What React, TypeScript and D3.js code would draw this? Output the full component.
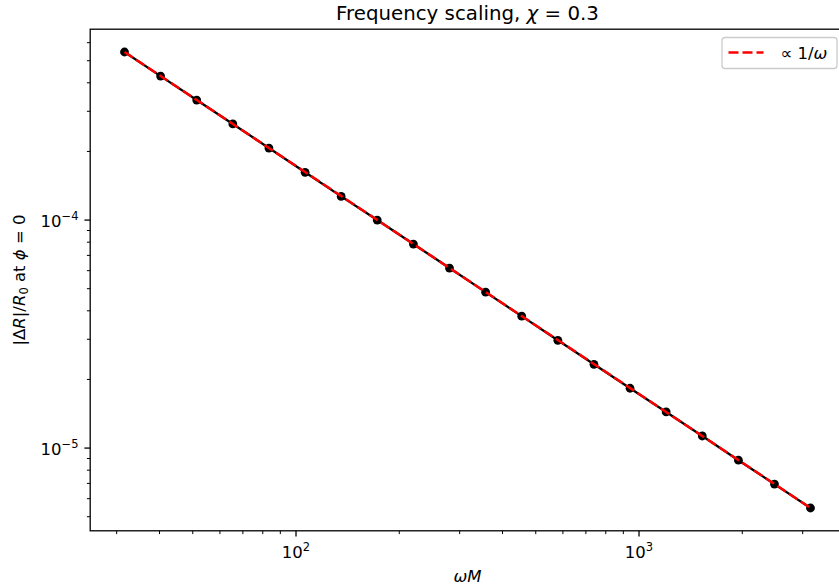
import * as d3 from 'd3';
import { useEffect, useRef } from 'react';

// omega*M sample points and |dR|/R0
const omega = [31.62, 40.29, 51.34, 65.43, 83.38, 106.3, 135.4, 172.5, 219.9, 280.2,
    357.1, 455.0, 579.9, 738.9, 941.6, 1200, 1529, 1949, 2483, 3162];
const deltaR = [5.46e-4, 4.28e-4, 3.36e-4, 2.64e-4, 2.07e-4, 1.62e-4, 1.27e-4, 1.0e-4, 7.85e-5, 6.16e-5,
    4.83e-5, 3.79e-5, 2.97e-5, 2.33e-5, 1.83e-5, 1.44e-5, 1.13e-5, 8.85e-6, 6.95e-6, 5.46e-6];
// fitted 1/omega line (end points)
const fitOmega = [31.62, 3162];
const fitValues = [5.46e-4, 5.46e-6];

const xMajor = [100, 1000];
const xMajorExp = ['2', '3'];
const yMajor = [1e-4, 1e-5];
const yMajorExp = ['\u22124', '\u22125'];

const FONT = 'DejaVu Sans, sans-serif';
const FS = 16.5;     // tick / label size
const FS_SUP = 11.5; // super-/subscripts
const FS_TITLE = 19.8;

function App() {
    const svgRef = useRef<SVGSVGElement>(null);

    useEffect(() => {
        const svg = d3.select(svgRef.current);
        svg.selectAll('*').remove();

        // matplotlib-like 5% margins in log space
        const logPad = (ext: number[]) => {
            const lo = Math.log10(ext[0]), hi = Math.log10(ext[1]);
            const p = (hi - lo) * 0.05;
            return [Math.pow(10, lo - p), Math.pow(10, hi + p)];
        };
        const xDom = logPad(d3.extent(omega) as number[]);
        const yDom = logPad(d3.extent(deltaR) as number[]);

        const left = 90.2, right = 844.8, top = 29.2, bottom = 530.8;
        const x = d3.scaleLog().domain(xDom).range([left, right]);
        const y = d3.scaleLog().domain(yDom).range([bottom, top]);

        // ---------- data ----------
        const line = d3.line<number>()
            .x((d, i) => x(omega[i]))
            .y(d => y(d));
        svg.append('path')
            .datum(deltaR)
            .attr('fill', 'none')
            .attr('stroke', 'black')
            .attr('stroke-width', 2.3)
            .attr('d', line);
        svg.append('g').selectAll('circle')
            .data(deltaR)
            .join('circle')
            .attr('cx', (d, i) => x(omega[i]))
            .attr('cy', d => y(d))
            .attr('r', 4.4)
            .attr('fill', 'black');

        const fitLine = d3.line<number>()
            .x((d, i) => x(fitOmega[i]))
            .y(d => y(d));
        svg.append('path')
            .datum(fitValues)
            .attr('fill', 'none')
            .attr('stroke', 'red')
            .attr('stroke-width', 2.6)
            .attr('stroke-dasharray', '10,4')
            .attr('d', fitLine);

        // ---------- spines ----------
        svg.append('rect')
            .attr('x', left).attr('y', top)
            .attr('width', right - left).attr('height', bottom - top)
            .attr('fill', 'none').attr('stroke', 'black').attr('stroke-width', 1.3);

        // ---------- x ticks ----------
        const xg = svg.append('g');
        x.ticks().forEach(t => {
            const major = Math.abs(Math.log10(t) - Math.round(Math.log10(t))) < 1e-9;
            xg.append('line')
                .attr('x1', x(t)).attr('x2', x(t))
                .attr('y1', bottom).attr('y2', bottom + (major ? 5.8 : 3.3))
                .attr('stroke', 'black').attr('stroke-width', major ? 1.3 : 1);
        });
        xMajor.forEach((t, i) => {
            const tx = xg.append('text')
                .attr('x', x(t)).attr('y', 557.8)
                .attr('text-anchor', 'middle')
                .attr('font-family', FONT).attr('font-size', FS);
            tx.append('tspan').text('10');
            tx.append('tspan').attr('dy', -7).attr('font-size', FS_SUP).text(xMajorExp[i]);
        });

        // ---------- y ticks ----------
        const yg = svg.append('g');
        y.ticks().forEach(t => {
            const major = Math.abs(Math.log10(t) - Math.round(Math.log10(t))) < 1e-9;
            yg.append('line')
                .attr('x1', left).attr('x2', left - (major ? 5.8 : 3.3))
                .attr('y1', y(t)).attr('y2', y(t))
                .attr('stroke', 'black').attr('stroke-width', major ? 1.3 : 1);
        });
        yMajor.forEach((t, i) => {
            const tx = yg.append('text')
                .attr('x', 78.5).attr('y', y(t) + 7)
                .attr('text-anchor', 'end')
                .attr('font-family', FONT).attr('font-size', FS);
            tx.append('tspan').text('10');
            tx.append('tspan').attr('dy', -7).attr('font-size', FS_SUP).text(yMajorExp[i]);
        });

        // ---------- labels ----------
        const title = svg.append('text')
            .attr('x', (left + right) / 2).attr('y', 19.8)
            .attr('text-anchor', 'middle')
            .attr('font-family', FONT).attr('font-size', FS_TITLE);
        title.append('tspan').text('Frequency scaling, ');
        title.append('tspan').attr('font-style', 'italic').text('\u03c7');
        title.append('tspan').text(' = 0.3');

        svg.append('text')
            .attr('x', (left + right) / 2).attr('y', 581.5)
            .attr('text-anchor', 'middle')
            .attr('font-family', FONT).attr('font-size', FS)
            .attr('font-style', 'italic')
            .text('\u03c9M');

        const yl = svg.append('text')
            .attr('transform', `translate(24.8,${(top + bottom) / 2}) rotate(-90)`)
            .attr('text-anchor', 'middle')
            .attr('font-family', FONT).attr('font-size', FS);
        yl.append('tspan').text('|\u0394');
        yl.append('tspan').attr('font-style', 'italic').text('R');
        yl.append('tspan').text('|/');
        yl.append('tspan').attr('font-style', 'italic').text('R');
        yl.append('tspan').attr('dy', 3.5).attr('font-size', FS_SUP).text('0');
        yl.append('tspan').attr('dy', -3.5).text(' at ');
        yl.append('tspan').attr('font-style', 'italic').text('\u03d5');
        yl.append('tspan').text(' = 0');

        // ---------- legend ----------
        const lg = svg.append('g');
        lg.append('rect')
            .attr('x', 722).attr('y', 37.5)
            .attr('width', 115).attr('height', 31)
            .attr('rx', 3)
            .attr('fill', 'white').attr('fill-opacity', 0.8)
            .attr('stroke', '#cccccc').attr('stroke-width', 1.3);
        lg.append('line')
            .attr('x1', 728.5).attr('x2', 763.5)
            .attr('y1', 52.5).attr('y2', 52.5)
            .attr('stroke', 'red').attr('stroke-width', 2.6)
            .attr('stroke-dasharray', '10,4');
        const lt = lg.append('text')
            .attr('x', 780.5).attr('y', 58.5)
            .attr('font-family', FONT).attr('font-size', FS);
        lt.append('tspan').text('\u221d 1/');
        lt.append('tspan').attr('font-style', 'italic').text('\u03c9');
    });

    return (
        <svg ref={svgRef} width={839} height={587}
            style={{ position: 'absolute', left: 0, top: 0, background: 'white' }} />
    );
}

export default App;
